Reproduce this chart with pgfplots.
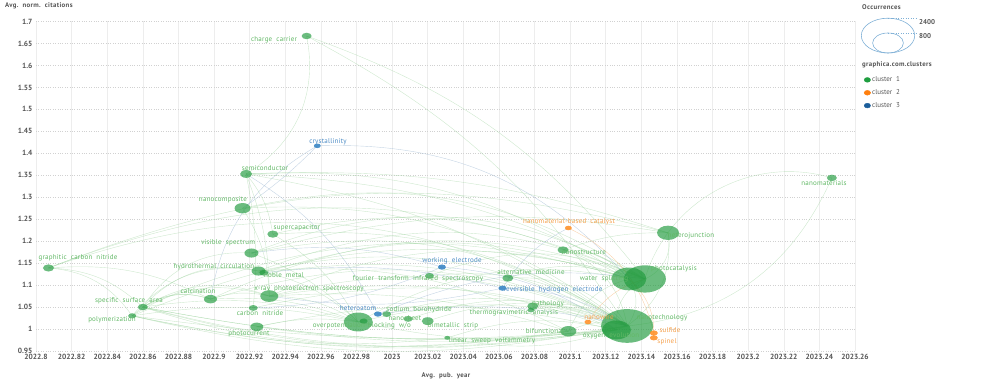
\documentclass[border=0pt]{standalone}
\usepackage{fontspec}
\setmainfont{PT Sans}
\newfontfamily\labfont{PT Sans}[LetterSpace=3]
\newfontfamily\ttlfont{PT Sans}[LetterSpace=5]
\usepackage{pgfplots}
\pgfplotsset{compat=1.18}
\usepackage{pgfplotstable}

\definecolor{txt}{HTML}{555555}
\definecolor{ng}{HTML}{1F9A3C}
\definecolor{nb}{HTML}{2F80C2}
\definecolor{no}{HTML}{FF8C1F}
\definecolor{lg}{HTML}{62B866}
\definecolor{lb}{HTML}{4A8AC4}
\definecolor{lo}{HTML}{F5A04C}
\definecolor{egc}{HTML}{9CD29D}
\definecolor{ebc}{HTML}{9DB8D2}
\definecolor{eoc}{HTML}{F7C08A}
\definecolor{c1}{HTML}{1F9E40}
\definecolor{c2}{HTML}{FF7F0E}
\definecolor{c3}{HTML}{1B5E9B}
\definecolor{lc}{HTML}{7FB0D6}

\pgfdeclareplotmark{ell}{%
  \pgfpathellipse{\pgfpointorigin}{\pgfqpoint{\pgfplotmarksize}{0pt}}{\pgfqpoint{0pt}{0.65\pgfplotmarksize}}%
  \pgfusepathqfill}

\tikzset{
 edgeG/.style={draw=egc, line width=0.4pt, draw opacity=0.5},
 edgeB/.style={draw=ebc, line width=0.4pt, draw opacity=0.6},
 edgeO/.style={draw=eoc, line width=0.4pt, draw opacity=0.7},
 lab/.style={font=\labfont\fontsize{7}{8}\selectfont, inner sep=0pt, anchor=center},
 ttl/.style={font=\ttlfont\fontsize{6.8}{8}\selectfont\bfseries, text=txt, inner sep=0pt},
}
\newcommand\EG[5]{\draw[edgeG] (axis cs:#1,#2) to[#5] (axis cs:#3,#4);}
\newcommand\EB[5]{\draw[edgeB] (axis cs:#1,#2) to[#5] (axis cs:#3,#4);}
\newcommand\EO[5]{\draw[edgeO] (axis cs:#1,#2) to[#5] (axis cs:#3,#4);}

% cluster 1 (green): x = avg. pub. year, y = avg. norm. citations, occ = occurrences
\pgfplotstableread{
x y occ
2022.952 1.667 84
2022.918 1.353 121
2022.916 1.275 215
2022.933 1.216 102
2022.921 1.173 165
2022.807 1.139 102
2022.925 1.132 165
2022.928 1.128 68
2022.898 1.068 142
2022.931 1.075 273
2022.860 1.050 84
2022.922 1.048 68
2022.854 1.030 54
2022.924 1.005 142
2022.981 1.016 708
2022.984 1.018 54
2022.997 1.034 68
2023.009 1.023 68
2023.020 1.018 121
2023.021 1.121 68
2023.031 0.980 30
2023.065 1.116 102
2023.079 1.052 102
2023.078 1.043 41
2023.096 1.180 102
2023.099 0.995 215
2023.133 1.114 1031
2023.142 1.114 1485
2023.155 1.219 407
2023.132 1.007 2276
2023.126 0.998 708
2023.247 1.344 84
}\tblG
% cluster 2 (orange)
\pgfplotstableread{
x y occ
2023.099 1.230 41
2023.110 1.016 41
2023.147 0.991 54
2023.147 0.980 54
}\tblO
% cluster 3 (blue)
\pgfplotstableread{
x y occ
2022.958 1.417 41
2022.992 1.034 54
2023.028 1.141 54
2023.062 1.093 54
}\tblB

\begin{document}
\begin{tikzpicture}
\useasboundingbox (-36pt,-34pt) rectangle (963pt,351pt);
\begin{axis}[
 scale only axis, width=819pt, height=329.5pt,
 xmin=2022.8, xmax=2023.26, ymin=0.95, ymax=1.7,
 xtick={2022.8,2022.82,2022.84,2022.86,2022.88,2022.9,2022.92,2022.94,2022.96,2022.98,2023,2023.02,2023.04,2023.06,2023.08,2023.1,2023.12,2023.14,2023.16,2023.18,2023.2,2023.22,2023.24,2023.26},
 xticklabels={2022.8,2022.82,2022.84,2022.86,2022.88,2022.9,2022.92,2022.94,2022.96,2022.98,2023,2023.02,2023.04,2023.06,2023.08,2023.1,2023.12,2023.14,2023.16,2023.18,2023.2,2023.22,2023.24,2023.26},
 ytick={0.95,1,1.05,1.1,1.15,1.2,1.25,1.3,1.35,1.4,1.45,1.5,1.55,1.6,1.65,1.7},
 yticklabels={0.95,1,1.05,1.1,1.15,1.2,1.25,1.3,1.35,1.4,1.45,1.5,1.55,1.6,1.65,1.7},
 axis line style={draw=none}, major tick length=0pt,
 xmajorgrids, ymajorgrids,
 major x grid style={draw=black!7, line width=0.6pt},
 major y grid style={draw=black!18, dotted, line width=0.5pt},
 ticklabel style={font=\fontsize{7.5}{9}\selectfont\bfseries, text=txt},
 /pgf/number format/assume math mode=true,
 clip=false,
 legend style={at={(axis description cs:1.0107,0.8375)}, anchor=north west, draw=none, fill=none,
   inner sep=0pt, row sep=3.6pt, font=\fontsize{7}{8}\selectfont, text=txt,
   nodes={inner sep=1.4pt}},
 legend cell align=left,
 legend image code/.code={\fill[#1] (3.2pt,0pt) ellipse (3.2pt and 2.4pt);},
]
% ---- links ----
\EG{2023.132}{1.007}{2022.807}{1.139}{bend right=25}
\EG{2023.142}{1.114}{2022.807}{1.139}{bend right=22}
\EG{2023.155}{1.219}{2022.807}{1.139}{bend right=18}
\EG{2023.132}{1.007}{2022.860}{1.050}{bend left=12}
\EG{2023.126}{0.998}{2022.860}{1.050}{bend left=8}
\EG{2023.133}{1.114}{2022.860}{1.050}{bend right=20}
\EG{2023.132}{1.007}{2022.854}{1.030}{bend left=12}
\EG{2023.126}{0.998}{2022.854}{1.030}{bend left=6}
\EG{2023.142}{1.114}{2022.854}{1.030}{bend right=18}
\EG{2023.132}{1.007}{2022.898}{1.068}{bend right=20}
\EG{2023.142}{1.114}{2022.898}{1.068}{bend right=22}
\EG{2023.132}{1.007}{2022.931}{1.075}{bend right=18}
\EG{2023.133}{1.114}{2022.931}{1.075}{bend right=20}
\EG{2023.126}{0.998}{2022.931}{1.075}{bend right=14}
\EG{2023.132}{1.007}{2022.925}{1.132}{bend right=20}
\EG{2023.142}{1.114}{2022.925}{1.132}{bend right=22}
\EG{2023.132}{1.007}{2022.928}{1.128}{bend right=16}
\EG{2023.133}{1.114}{2022.928}{1.128}{bend right=18}
\EG{2023.132}{1.007}{2022.921}{1.173}{bend right=22}
\EG{2023.142}{1.114}{2022.921}{1.173}{bend right=25}
\EG{2023.155}{1.219}{2022.921}{1.173}{bend right=12}
\EG{2023.132}{1.007}{2022.918}{1.353}{bend right=12}
\EG{2023.142}{1.114}{2022.918}{1.353}{bend right=12}
\EG{2023.133}{1.114}{2022.918}{1.353}{bend right=18}
\EG{2023.132}{1.007}{2022.952}{1.667}{bend right=14}
\EG{2023.142}{1.114}{2022.952}{1.667}{bend right=16}
\EG{2022.952}{1.667}{2022.918}{1.353}{bend left=35}
\EG{2023.132}{1.007}{2022.924}{1.005}{bend left=8}
\EG{2023.126}{0.998}{2022.924}{1.005}{bend right=12}
\EG{2023.132}{1.007}{2022.981}{1.016}{bend right=14}
\EG{2023.133}{1.114}{2022.981}{1.016}{bend right=20}
\EG{2023.126}{0.998}{2022.981}{1.016}{bend left=10}
\EG{2023.132}{1.007}{2023.021}{1.121}{bend right=20}
\EG{2023.142}{1.114}{2023.021}{1.121}{bend right=22}
\EG{2023.132}{1.007}{2023.065}{1.116}{bend right=25}
\EG{2023.133}{1.114}{2023.065}{1.116}{bend right=20}
\EG{2023.132}{1.007}{2023.079}{1.052}{bend right=20}
\EG{2023.126}{0.998}{2023.079}{1.052}{bend right=15}
\EG{2023.132}{1.007}{2023.099}{0.995}{bend right=20}
\EG{2023.133}{1.114}{2023.099}{0.995}{bend right=25}
\EG{2023.132}{1.007}{2022.916}{1.275}{bend right=20}
\EG{2023.142}{1.114}{2022.916}{1.275}{bend right=22}
\EG{2023.132}{1.007}{2022.933}{1.216}{bend right=18}
\EG{2023.133}{1.114}{2022.933}{1.216}{bend right=20}
\EG{2023.132}{1.007}{2022.922}{1.048}{bend right=15}
\EG{2023.132}{1.007}{2023.247}{1.344}{bend right=30}
\EG{2023.142}{1.114}{2023.247}{1.344}{bend left=45}
\EG{2023.132}{1.007}{2023.009}{1.023}{bend right=20}
\EG{2023.132}{1.007}{2023.020}{1.018}{bend right=20}
\EG{2023.126}{0.998}{2022.997}{1.034}{bend right=20}
\EG{2023.132}{1.007}{2023.031}{0.980}{bend left=15}
\EG{2023.126}{0.998}{2023.031}{0.980}{bend right=15}
\EG{2023.132}{1.007}{2023.078}{1.043}{bend right=20}
\EG{2023.132}{1.007}{2023.096}{1.180}{bend right=30}
\EG{2023.133}{1.114}{2023.096}{1.180}{bend right=25}
\EG{2023.155}{1.219}{2023.142}{1.114}{bend left=40}
\EG{2023.155}{1.219}{2023.132}{1.007}{bend left=30}
\EG{2023.132}{1.007}{2023.133}{1.114}{bend right=35}
\EG{2023.126}{0.998}{2023.142}{1.114}{bend left=35}
\EG{2023.155}{1.219}{2022.918}{1.353}{bend right=10}
\EG{2023.155}{1.219}{2023.096}{1.180}{bend right=10}
\EG{2022.807}{1.139}{2022.860}{1.050}{bend left=20}
\EG{2022.807}{1.139}{2022.854}{1.030}{bend left=25}
\EG{2022.807}{1.139}{2022.898}{1.068}{bend left=15}
\EG{2022.860}{1.050}{2022.898}{1.068}{bend left=25}
\EG{2022.860}{1.050}{2022.931}{1.075}{bend left=25}
\EG{2022.860}{1.050}{2022.925}{1.132}{bend left=30}
\EG{2022.860}{1.050}{2022.921}{1.173}{bend left=30}
\EG{2022.854}{1.030}{2022.898}{1.068}{bend left=30}
\EG{2022.854}{1.030}{2022.925}{1.132}{bend left=30}
\EG{2022.854}{1.030}{2022.931}{1.075}{bend left=25}
\EG{2022.898}{1.068}{2022.931}{1.075}{bend left=15}
\EG{2022.918}{1.353}{2022.931}{1.075}{bend left=10}
\EG{2022.918}{1.353}{2022.922}{1.048}{bend left=8}
\EG{2022.916}{1.275}{2022.931}{1.075}{bend left=15}
\EG{2022.933}{1.216}{2022.981}{1.016}{bend left=15}
\EG{2022.925}{1.132}{2022.981}{1.016}{bend left=15}
\EG{2022.931}{1.075}{2022.981}{1.016}{bend left=15}
\EG{2022.924}{1.005}{2022.981}{1.016}{bend left=10}
\EG{2022.860}{1.050}{2022.981}{1.016}{bend left=12}
\EG{2022.854}{1.030}{2022.981}{1.016}{bend left=10}
\EG{2022.860}{1.050}{2023.099}{0.995}{bend right=12}
\EG{2022.854}{1.030}{2023.099}{0.995}{bend right=10}
\EG{2022.860}{1.050}{2023.031}{0.980}{bend right=12}
\EG{2022.854}{1.030}{2023.126}{0.998}{bend right=10}
\EG{2022.860}{1.050}{2023.126}{0.998}{bend right=8}
\EG{2022.921}{1.173}{2022.981}{1.016}{bend left=12}
\EG{2022.898}{1.068}{2022.981}{1.016}{bend left=12}
\EG{2022.925}{1.132}{2023.099}{0.995}{bend left=15}
\EG{2022.931}{1.075}{2023.099}{0.995}{bend left=10}
\EG{2022.918}{1.353}{2022.933}{1.216}{bend left=15}
\EB{2022.958}{1.417}{2022.898}{1.068}{bend right=25}
\EB{2022.958}{1.417}{2023.133}{1.114}{bend left=25}
\EB{2022.958}{1.417}{2022.916}{1.275}{bend left=5}
\EB{2023.062}{1.093}{2023.099}{1.230}{bend left=15}
\EB{2023.132}{1.007}{2023.062}{1.093}{bend right=15}
\EB{2023.062}{1.093}{2022.931}{1.075}{bend left=10}
\EB{2023.028}{1.141}{2023.126}{0.998}{bend left=15}
\EB{2023.028}{1.141}{2022.922}{1.048}{bend left=10}
\EB{2022.992}{1.034}{2023.132}{1.007}{bend left=10}
\EB{2022.992}{1.034}{2023.142}{1.114}{bend left=15}
\EB{2022.992}{1.034}{2022.918}{1.353}{bend right=15}
\EB{2023.028}{1.141}{2022.921}{1.173}{bend right=12}
\EB{2023.062}{1.093}{2022.928}{1.128}{bend right=10}
\EO{2023.099}{1.230}{2023.147}{0.991}{bend left=25}
\EO{2023.110}{1.016}{2023.142}{1.114}{bend left=20}
\EO{2023.147}{0.980}{2023.133}{1.114}{bend right=25}
% ---- nodes ----
\addplot[scatter, only marks, mark=ell, forget plot,
  visualization depends on={0.545*sqrt(\thisrow{occ}) \as \msize},
  scatter/@pre marker code/.code={\scope[mark size=\msize, fill=ng, fill opacity=0.66, draw=none]},
  scatter/@post marker code/.code={\endscope}] table[x=x, y=y] {\tblG};
\addplot[scatter, only marks, mark=ell, forget plot,
  visualization depends on={0.545*sqrt(\thisrow{occ}) \as \msize},
  scatter/@pre marker code/.code={\scope[mark size=\msize, fill=no, fill opacity=0.85, draw=none]},
  scatter/@post marker code/.code={\endscope}] table[x=x, y=y] {\tblO};
\addplot[scatter, only marks, mark=ell, forget plot,
  visualization depends on={0.545*sqrt(\thisrow{occ}) \as \msize},
  scatter/@pre marker code/.code={\scope[mark size=\msize, fill=nb, fill opacity=0.85, draw=none]},
  scatter/@post marker code/.code={\endscope}] table[x=x, y=y] {\tblB};
\addlegendimage{c1}\addlegendentry{cluster\ \ 1}
\addlegendimage{c2}\addlegendentry{cluster\ \ 2}
\addlegendimage{c3}\addlegendentry{cluster\ \ 3}
\end{axis}
% ---- axis titles ----
\node[ttl, anchor=west] at (-31pt,345pt) {Avg.\ \ norm.\ \ citations};
\node[ttl, anchor=center] at (410pt,-25pt) {Avg.\ \ pub.\ \ year};
% ---- labels ----
\node[lab, text=lg] at (238pt,311pt) {charge\ \ carrier};
\node[lab, text=lb] at (292pt,209pt) {crystallinity};
\node[lab, text=lg] at (229pt,183pt) {semiconductor};
\node[lab, text=lg] at (187pt,151pt) {nanocomposite};
\node[lab, text=lg] at (261pt,123pt) {supercapacitor};
\node[lab, text=lg] at (192pt,108pt) {visible\ \ spectrum};
\node[lab, text=lg] at (42pt,93pt) {graphitic\ \ carbon\ \ nitride};
\node[lab, text=lg] at (178pt,84pt) {hydrothermal\ \ circulation};
\node[lab, text=lg] at (248pt,76pt) {noble\ \ metal};
\node[lab, text=lg] at (162pt,60pt) {calcination};
\node[lab, text=lg] at (273pt,62pt) {x-ray\ \ photoelectron\ \ spectroscopy};
\node[lab, text=lg] at (93pt,50pt) {specific\ \ surface\ \ area};
\node[lab, text=lg] at (224pt,38pt) {carbon\ \ nitride};
\node[lab, text=lg] at (76pt,31pt) {polymerization};
\node[lab, text=lg] at (213pt,17pt) {photocurrent};
\node[lab, text=lb] at (322pt,43pt) {heteroatom};
\node[lab, text=lg] at (383pt,41pt) {sodium\ \ borohydride};
\node[lab, text=lg] at (369pt,33pt) {nanosheet};
\node[lab, text=lg] at (298pt,25pt) {overpotential};
\node[lab, text=lg] at (347pt,25pt) {ion-blocking\ \ w/o};
\node[lab, text=lg] at (417pt,25pt) {bimetallic\ \ strip};
\node[lab, text=lg] at (382pt,72pt) {fourier\ \ transform\ \ infrared\ \ spectroscopy};
\node[lab, text=lb] at (416pt,90pt) {working\ \ electrode};
\node[lab, text=lg] at (456pt,10pt) {linear\ \ sweep\ \ voltammetry};
\node[lab, text=lg] at (495pt,79pt) {alternative\ \ medicine};
\node[lab, text=lb] at (517pt,61pt) {reversible\ \ hydrogen\ \ electrode};
\node[lab, text=lg] at (512pt,47pt) {pathology};
\node[lab, text=lg] at (478pt,38pt) {thermogravimetric\ \ analysis};
\node[lab, text=lg] at (548pt,99pt) {nanostructure};
\node[lab, text=lo] at (533pt,129pt) {nanomaterial-based\ \ catalyst};
\node[lab, text=lg] at (509pt,20pt) {bifunctional};
\node[lab, text=lo] at (563pt,34pt) {nanowire};
\node[lab, text=lg] at (568pt,72pt) {water\ \ splitting};
\node[lab, text=lg] at (638pt,82pt) {photocatalysis};
\node[lab, text=lg] at (655pt,115pt) {heterojunction};
\node[lab, text=lg] at (626pt,33pt) {nanotechnology};
\node[lab, text=lg] at (575pt,15pt) {oxygen\ \ evolution};
\node[lab, text=lo] at (634pt,21pt) {sulfide};
\node[lab, text=lo] at (631pt,9pt) {spinel};
\node[lab, text=lg] at (788pt,168pt) {nanomaterials};
% ---- occurrences key ----
\node[ttl, anchor=west] at (826pt,344pt) {Occurrences};
\draw[lc, line width=0.6pt] (852pt,315.4pt) ellipse (26.7pt and 17.4pt);
\draw[lc, line width=0.6pt] (852pt,308pt) ellipse (15.4pt and 10pt);
\draw[lc, dotted, line width=0.5pt] (852pt,332.8pt) -- (881pt,332.8pt);
\draw[lc, dotted, line width=0.5pt] (852pt,318pt) -- (881pt,318pt);
\node[anchor=west, font=\fontsize{7}{8}\selectfont\bfseries, text=txt, inner sep=0pt] at (883pt,329pt) {2400};
\node[anchor=west, font=\fontsize{7}{8}\selectfont\bfseries, text=txt, inner sep=0pt] at (883pt,315pt) {800};
\node[ttl, anchor=west] at (826pt,286pt) {graphica.com.clusters};
\end{tikzpicture}
\end{document}
